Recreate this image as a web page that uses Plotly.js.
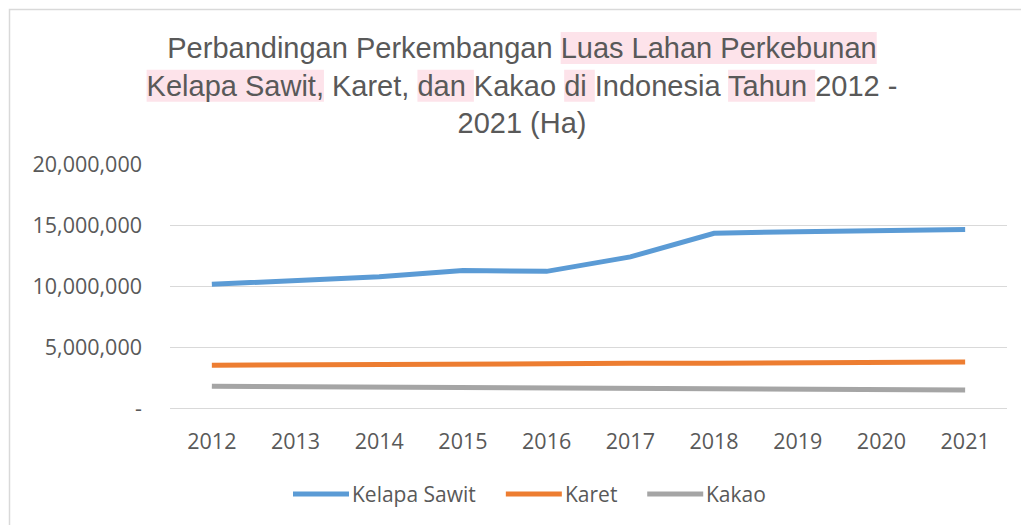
<!DOCTYPE html>
<html>
<head>
<meta charset="utf-8">
<script src="https://cdn.plot.ly/plotly-3.0.1.min.js"></script>
<style>
  html, body { margin: 0; padding: 0; background: #fff; }
  #chart { width: 1021px; height: 525px; }
</style>
</head>
<body>
<div id="chart"></div>
<script>
// ---- Data ----
const years = ['2012', '2013', '2014', '2015', '2016', '2017', '2018', '2019', '2020', '2021'];
const kelapaSawit = [10133300, 10465020, 10754801, 11260277, 11201465, 12383101, 14326350, 14456611, 14586599, 14621693];
const karet = [3506200, 3555946, 3606245, 3621102, 3639092, 3659090, 3671387, 3675800, 3726172, 3776400];
const kakao = [1774500, 1740612, 1727437, 1709284, 1720773, 1658422, 1611014, 1560000, 1508956, 1468000];
const seriesNames = ['Kelapa Sawit', 'Karet', 'Kakao'];
const yTickVals = [0, 5000000, 10000000, 15000000, 20000000];
const yTickText = ['-', '5,000,000', '10,000,000', '15,000,000', '20,000,000'];

// Title segments: [text, highlighted?]
const titleLines = [
  [['Perbandingan Perkembangan ', 0], ['Luas Lahan Perkebunan', 1]],
  [['Kelapa Sawit,', 1], [' Karet, ', 0], ['dan ', 1], ['Kakao ', 0], ['di ', 1], ['Indonesia ', 0], ['Tahun ', 1], ['2012 -', 0]],
  [['2021 (Ha)', 0]]
];

const colors = ['#5B9BD5', '#ED7D31', '#A5A5A5'];
const textColor = '#595959';
const gridColor = '#D9D9D9';
const tickFont = { family: 'Open Sans, sans-serif', size: 21.5, color: textColor };
const legendFontSize = 21;

const M = { l: 170, r: 14, t: 164, b: 117 };
const W = 1021, H = 525;
const pw = W - M.l - M.r, ph = H - M.t - M.b;
function px2x(px) { return (px - M.l) / pw; }
function py2y(py) { return 1 - (py - M.t) / ph; }

const traces = [kelapaSawit, karet, kakao].map((vals, i) => ({
  type: 'scatter',
  mode: 'lines',
  name: seriesNames[i],
  x: years,
  y: vals,
  line: { color: colors[i], width: 5 },
  hoverinfo: 'skip',
  showlegend: false
}));

const titleText = titleLines.map(l => l.map(s => s[0]).join('')).join('<br>');

const borderShape = {
  type: 'rect', xref: 'paper', yref: 'paper', layer: 'below',
  x0: px2x(9.5), x1: px2x(W + 20), y0: py2y(H + 20), y1: py2y(9.5),
  line: { color: gridColor, width: 1.5 }, fillcolor: 'rgba(0,0,0,0)'
};

// ---- Legend (drawn with shapes + annotations to get long line samples) ----
const cv = document.createElement('canvas').getContext('2d');
cv.font = legendFontSize + 'px "Open Sans"';
const legendShapes = [];
const legendAnns = [];
const legendY = 494;
let lx = 293;
seriesNames.forEach((name, i) => {
  legendShapes.push({
    type: 'line', xref: 'paper', yref: 'paper',
    x0: px2x(lx), x1: px2x(lx + 56), y0: py2y(legendY), y1: py2y(legendY),
    line: { color: colors[i], width: 5 }
  });
  legendAnns.push({
    xref: 'paper', yref: 'paper', x: px2x(lx + 57), y: py2y(legendY),
    xanchor: 'left', yanchor: 'middle', showarrow: false,
    text: name,
    font: { family: 'Open Sans, sans-serif', size: legendFontSize, color: textColor }
  });
  lx += 59 + cv.measureText(name).width + 30;
});

const layout = {
  width: W, height: H,
  margin: M,
  paper_bgcolor: '#ffffff',
  plot_bgcolor: '#ffffff',
  font: { family: 'Open Sans, sans-serif', color: textColor },
  title: {
    text: titleText,
    font: { family: 'Liberation Sans, Arial, sans-serif', size: 29, color: textColor },
    x: 522 / W, xanchor: 'center', xref: 'container',
    y: 1 - 58 / H, yanchor: 'top', yref: 'container'
  },
  xaxis: {
    type: 'category',
    range: [-0.5, years.length - 0.5],
    showgrid: false,
    showline: true, linecolor: gridColor, linewidth: 1,
    ticks: '',
    tickfont: tickFont,
    ticklabelstandoff: 14,
    fixedrange: true
  },
  yaxis: {
    range: [0, 20000000],
    tickvals: yTickVals,
    ticktext: yTickText,
    showgrid: true, gridcolor: gridColor, gridwidth: 1,
    zeroline: false, showline: false,
    ticks: '',
    tickfont: tickFont,
    ticklabelstandoff: 27,
    fixedrange: true
  },
  showlegend: false,
  annotations: legendAnns,
  shapes: [borderShape].concat(legendShapes)
};

Plotly.newPlot('chart', traces, layout, { displayModeBar: false, staticPlot: true }).then(gd => {
  const textEl = gd.querySelector('.gtitle');
  if (!textEl || !textEl.getExtentOfChar) return;
  const shapes = [borderShape].concat(legendShapes);
  let idx = 0;
  titleLines.forEach(line => {
    line.forEach(seg => {
      const [txt, hl] = seg;
      if (hl) {
        try {
          const a = textEl.getExtentOfChar(idx);
          const b = textEl.getExtentOfChar(idx + txt.length - 1);
          shapes.push({
            type: 'rect', xref: 'paper', yref: 'paper', layer: 'below',
            x0: px2x(a.x), x1: px2x(b.x + b.width),
            y0: py2y(a.y + a.height), y1: py2y(a.y),
            line: { width: 0 }, fillcolor: '#FDE3EA'
          });
        } catch (e) {}
      }
      idx += txt.length;
    });
  });
  Plotly.relayout(gd, { shapes: shapes });
});
</script>
</body>
</html>
